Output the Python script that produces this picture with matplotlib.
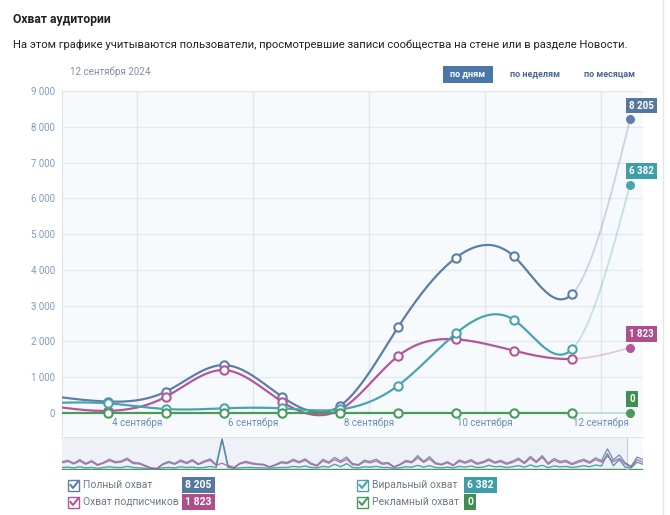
import numpy as np
import matplotlib
matplotlib.use("Agg")
import matplotlib.pyplot as plt
from matplotlib.patches import Rectangle

plt.rcParams['font.family'] = ['Roboto', 'DejaVu Sans']

# Daily values, index -1 is the day before the visible window
day_idx = np.arange(-1, 10)
full_reach = [480, 320, 600, 1340, 455, 200, 2395, 4340, 4375, 3320, 8205]
subs_reach = [200, 60, 455, 1200, 315, 90, 1590, 2060, 1740, 1510, 1823]
viral_reach = [280, 270, 110, 130, 130, 100, 765, 2225, 2600, 1780, 6382]
ads_reach = [0, 0, 0, 0, 0, 0, 0, 0, 0, 0, 0]

tick_pos = [0.5, 2.5, 4.5, 6.5, 8.5]
tick_labels = ["4 сентября", "6 сентября", "8 сентября", "10 сентября", "12 сентября"]
y_ticks = [0, 1000, 2000, 3000, 4000, 5000, 6000, 7000, 8000, 9000]

names = ["Полный охват", "Охват подписчиков", "Виральный охват", "Рекламный охват"]
last_labels = ["8 205", "1 823", "6 382", "0"]
line_colors = ["#5d7ea6", "#b4569a", "#4aa4ad", "#4b9a5c"]
box_colors = ["#56789f", "#ae4e8d", "#3f9ea7", "#3f8f53"]

# navigator (long history, rough reading)
nav_full = [1900, 2300, 1500, 2500, 1400, 2200, 1100, 1700, 2600, 1900, 2100, 2900, 1700,
            1600, 900, 200, 0, 1300, 2000, 1400, 2400, 1700, 2500, 1300, 2100, 2700, 1100,
            8200, 900, 300, 1500, 2000, 1600, 1300, 1200, 500, 1100, 1900, 1700, 2600, 1900,
            2700, 1500, 900, 2600, 1800, 3100, 2100, 3200, 1400, 1100, 2300, 2000, 2600, 1500,
            1700, 500, 1200, 2300, 1900, 3600, 2000, 3300, 1600, 1200, 1900, 1000, 2400, 1800,
            2500, 1500, 1900, 2700, 1800, 2300, 1500, 2100, 2900, 1700, 3400, 2000, 3600, 1500,
            2800, 2000, 2300, 1400, 2100, 2600, 1800, 3000, 2200, 5500, 2400, 3800, 1600, 600,
            3200, 2500]
nav_subs = [1600, 2000, 1300, 2100, 1200, 1900, 900, 1500, 2200, 1600, 1800, 2500, 1400,
            1300, 700, 100, 0, 1100, 1700, 1200, 2000, 1400, 2100, 1100, 1800, 2300, 900,
            1500, 700, 200, 1300, 1700, 1300, 1100, 1000, 400, 900, 1600, 1400, 2200, 1600,
            2300, 1200, 700, 2100, 1500, 2500, 1700, 2600, 1100, 900, 1900, 1600, 2100, 1200,
            1400, 400, 1000, 1900, 1600, 3000, 1700, 2700, 1300, 1000, 1600, 800, 2000, 1500,
            2100, 1200, 1600, 2300, 1500, 1900, 1200, 1700, 2500, 1400, 2900, 1700, 3100, 1200,
            2300, 1600, 1900, 1100, 1700, 2200, 1500, 2500, 1800, 3500, 1900, 2800, 1300, 500,
            2500, 1800]
nav_viral = [300, 400, 200, 500, 200, 300, 100, 300, 500, 300, 300, 600, 300,
             200, 100, 0, 0, 200, 300, 200, 500, 300, 400, 200, 300, 600, 300,
             8200, 300, 100, 200, 300, 300, 200, 200, 100, 200, 300, 300, 600, 400,
             700, 300, 200, 600, 400, 1200, 500, 1400, 300, 200, 500, 400, 600, 300,
             300, 100, 200, 500, 400, 900, 400, 800, 300, 200, 400, 200, 600, 400,
             700, 300, 400, 900, 500, 600, 300, 500, 800, 400, 1000, 500, 900, 300,
             700, 500, 600, 300, 500, 800, 500, 1000, 700, 4200, 800, 2500, 400, 200,
             1800, 1200]


def natural_spline(x, y, n=30):
    x = np.asarray(x, float)
    y = np.asarray(y, float)
    k = len(x)
    h = np.diff(x)
    A = np.zeros((k, k))
    r = np.zeros(k)
    A[0, 0] = A[-1, -1] = 1
    for i in range(1, k - 1):
        A[i, i - 1] = h[i - 1]
        A[i, i] = 2 * (h[i - 1] + h[i])
        A[i, i + 1] = h[i]
        r[i] = 3 * ((y[i + 1] - y[i]) / h[i] - (y[i] - y[i - 1]) / h[i - 1])
    c = np.linalg.solve(A, r)
    b = (y[1:] - y[:-1]) / h - h * (2 * c[:-1] + c[1:]) / 3
    d = (c[1:] - c[:-1]) / (3 * h)
    xs, ys = [], []
    for i in range(k - 1):
        t = np.linspace(0, h[i], n, endpoint=(i == k - 2))
        xs.append(x[i] + t)
        ys.append(y[i] + b[i] * t + c[i] * t ** 2 + d[i] * t ** 3)
    return np.concatenate(xs), np.concatenate(ys)


W, H = 670, 515
fig = plt.figure(figsize=(W / 100, H / 100), dpi=100)
fig.patch.set_facecolor("white")


def fx(x):
    return x / W


def fy(y):
    return 1 - y / H


def px_axes(x0, y0, x1, y1):
    return fig.add_axes([fx(x0), fy(y1), fx(x1) - fx(x0), fy(y0) - fy(y1)])


# header
fig.text(fx(13), fy(19), "Охват аудитории", fontsize=8.7, fontweight="bold",
         color="#222222", va="center")
fig.text(fx(13), fy(45), "На этом графике учитываются пользователи, просмотревшие записи "
         "сообщества на стене или в разделе Новости.", fontsize=8.1, color="#222222", va="center")
fig.text(fx(70), fy(72), "12 сентября 2024", fontsize=7, color="#7f90a6", va="center")
fig.add_artist(Rectangle((fx(443), fy(83)), fx(50), 17 / H, transform=fig.transFigure,
                         fc="#4a76a8", ec="none"))
fig.text(fx(468), fy(74), "по дням", fontsize=6.5, fontweight="bold", color="white",
         ha="center", va="center")
fig.text(fx(535), fy(74), "по неделям", fontsize=6.5, fontweight="bold", color="#4a6a92",
         ha="center", va="center")
fig.text(fx(610), fy(74), "по месяцам", fontsize=6.5, fontweight="bold", color="#4a6a92",
         ha="center", va="center")
fig.add_artist(plt.Line2D([fx(663), fx(663)], [0, 1], transform=fig.transFigure,
                          color="#e4e6ea", lw=1))

# main chart
ax = px_axes(62, 91, 643, 435)
ax.set_facecolor("#f7fafd")
ax.set_xlim((62 - 108) / 58, (643 - 108) / 58)
ax.set_ylim(-615, 9000)
for s in ["top", "right", "bottom"]:
    ax.spines[s].set_visible(False)
ax.spines["left"].set_color("#dce3ea")
ax.set_yticks(y_ticks)
ax.set_yticklabels([f"{v:,}".replace(",", " ") for v in y_ticks])
ax.tick_params(axis="y", length=0, pad=5, labelsize=7, labelcolor="#7f9cc2")
ax.set_xticks(tick_pos)
ax.set_xticklabels(tick_labels)
ax.tick_params(axis="x", length=0, pad=-12.5, labelsize=7, labelcolor="#6a8dbb")
ax.hlines(y_ticks[1:], ax.get_xlim()[0], ax.get_xlim()[1], color="#e4e9ef", lw=1, zorder=1)
ax.vlines(tick_pos, 0, 9000, color="#e1e6ec", lw=1, zorder=1)

series = [full_reach, subs_reach, viral_reach, ads_reach]
for vals, lc, bc, lab in zip(series, line_colors, box_colors, last_labels):
    xs, ys = natural_spline(day_idx, vals)
    solid = xs <= 8
    fade = xs >= 8
    ax.plot(xs[solid], ys[solid], color=lc, lw=1.6, zorder=3, clip_on=True)
    ax.plot(xs[fade], ys[fade], color=lc, lw=1.3, alpha=0.3, zorder=3)
    ax.plot(day_idx[1:-1], vals[1:-1], ls="none", marker="o", ms=6, mfc="white",
            mec=lc, mew=1.5, zorder=4)
    ax.plot(day_idx[-1], vals[-1], ls="none", marker="o", ms=5.5, mfc=lc, mec=lc, zorder=4,
            clip_on=False)
    ax.annotate(lab, xy=(day_idx[-1], vals[-1]), xytext=(-0.5, 10), textcoords="offset points",
                ha="left", va="center", fontsize=7, color="white", fontweight="bold",
                bbox=dict(boxstyle="square,pad=0.3", fc=bc, ec="none"), annotation_clip=False,
                zorder=5)

# navigator
nav = px_axes(62, 437, 643, 470)
nav.set_facecolor("#eef2f6")
nx = np.arange(len(nav_full))
nav.set_xlim(0, len(nav_full) - 1)
nav.set_ylim(-400, 8800)
nav.set_xticks([])
nav.set_yticks([])
for s in nav.spines.values():
    s.set_visible(False)
nav.spines["top"].set_visible(True)
nav.spines["top"].set_color("#dde3ea")
sel0 = (627 - 62) / (643 - 62) * (len(nav_full) - 1)
nav.axvspan(sel0, len(nav_full) - 1, color="#f8fafc", zorder=0)
nav.axvline(sel0, color="#c9d2dc", lw=1)
nav.plot(nx, nav_viral, color=line_colors[2], lw=1, zorder=2)
nav.plot(nx, nav_subs, color=line_colors[1], lw=1, alpha=0.8, zorder=3)
nav.plot(nx, nav_full, color=line_colors[0], lw=1, alpha=0.8, zorder=2)
nav.plot(nx, np.zeros(len(nx)), color=line_colors[3], lw=1, zorder=1)

# legend
legend_pos = [(68, 485, 183), (68, 502, 183), (357, 485, 465), (357, 502, 465)]
for (cx, cy, bx), name, lc, bc, lab in zip(legend_pos, names, line_colors, box_colors, last_labels):
    fig.add_artist(Rectangle((fx(cx), fy(cy + 6)), 11 / W, 11 / H, transform=fig.transFigure,
                             fc="white", ec=lc, lw=1))
    fig.add_artist(plt.Line2D([fx(cx + 2.5), fx(cx + 5), fx(cx + 10.5)],
                              [fy(cy), fy(cy + 3), fy(cy - 4)], transform=fig.transFigure,
                              color=lc, lw=1.5))
    fig.text(fx(cx + 15), fy(cy), name, fontsize=7.5, color="#6e7a88", va="center")
    fig.text(fx(bx + 2), fy(cy), lab, fontsize=7.5, color="white", fontweight="bold",
             va="center", bbox=dict(boxstyle="square,pad=0.3", fc=bc, ec="none"))

fig.savefig("out.png", dpi=100)
